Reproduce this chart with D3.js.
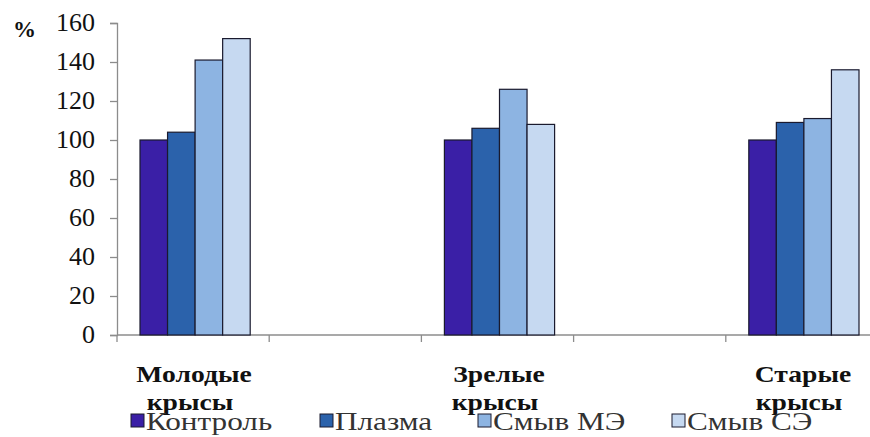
<!DOCTYPE html>
<html><head><meta charset="utf-8">
<script src="https://cdn.jsdelivr.net/npm/d3@7"></script>
<style>body{margin:0;background:#fff}
#wrap{position:relative;width:870px;height:437px;overflow:hidden}
svg{display:block;position:absolute;left:0;top:0}
.lbl{position:absolute;white-space:nowrap;line-height:1;font-family:"Liberation Serif","Times New Roman",Times,serif;}
</style>
</head><body>
<div id="wrap"></div>
<script>
const categories = [["Молодые","крысы"],["Зрелые","крысы"],["Старые","крысы"]];
const series = ["Контроль","Плазма","Смыв МЭ","Смыв СЭ"];
const values = {
  "Контроль": [100,100,100],
  "Плазма":   [104,106,109],
  "Смыв МЭ":  [141,126,111],
  "Смыв СЭ":  [152,108,136]
};
const yTicks = [0,20,40,60,80,100,120,140,160];
const colors = ["#3a1fa6","#2b62ab","#8db4e2","#c6d9f1"];

const W=870,H=437;
const wrap=d3.select("#wrap");
const svg=wrap.append("svg").attr("width",W).attr("height",H);
const x0=117, x1=878, yTop=23, yBot=335;
const slots=d3.range(categories.length*2-1);
const xs=d3.scaleBand().domain(slots).range([x0,x1]).padding(0);
const y=d3.scaleLinear().domain([0,160]).range([yBot,yTop]);
const inner=d3.scaleBand().domain(series).range([23,xs.bandwidth()-19]).padding(0);

function label(text,x,base,o){
  const fs=o.size, k=o.sx||1;
  const d=wrap.append("div").attr("class","lbl").text(text)
   .style("font-size",fs+"px").style("font-weight",o.weight||"normal")
   .style("color",o.color||"#111").style("top",(base-0.8375*fs)+"px").style("left",x+"px");
  let tr, org;
  if(o.anchor==="middle"){tr=`translateX(-50%) scaleX(${k})`;org="50% 50%";}
  else if(o.anchor==="end"){tr=`translateX(-100%) scaleX(${k})`;org="100% 50%";}
  else {tr=`scaleX(${k})`;org="0 50%";}
  d.style("transform",tr).style("transform-origin",org);
  return d;
}

const axisCol="#8c8c8c";
const ya=svg.append("g").attr("transform",`translate(${x0},0)`)
 .call(d3.axisLeft(y).tickValues(yTicks).tickSize(7).tickFormat(""));
ya.select(".domain").attr("stroke",axisCol).attr("stroke-width",1.3);
ya.selectAll(".tick line").attr("stroke",axisCol).attr("stroke-width",1.3);
yTicks.forEach(v=>label(String(v),95,y(v)+9,{size:26,anchor:"end"}));

svg.append("line").attr("x1",x0).attr("x2",W).attr("y1",yBot).attr("y2",yBot).attr("stroke",axisCol).attr("stroke-width",1.5);
const bounds=slots.map(s=>xs(s)).concat([x1]);
svg.selectAll("line.xt").data(bounds).join("line").attr("class","xt")
 .attr("x1",d=>d).attr("x2",d=>d).attr("y1",yBot).attr("y2",yBot+7).attr("stroke",axisCol).attr("stroke-width",1.3);

const g=svg.append("g");
categories.forEach((c,i)=>{
  const bx=xs(i*2);
  series.forEach((s,j)=>{
    g.append("rect").attr("x",bx+inner(s)).attr("width",inner.bandwidth())
     .attr("y",y(values[s][i])).attr("height",yBot-y(values[s][i]))
     .attr("fill",colors[j]).attr("stroke","#1a1a2e").attr("stroke-width",1.2);
  });
  const cx=bx+xs.bandwidth()/2;
  label(c[0],cx+1,382,{size:23,weight:"bold",anchor:"middle",sx:1.2});
  label(c[1],cx-3,410,{size:23,weight:"bold",anchor:"middle",sx:1.2});
});

label("%",13,37,{size:23,weight:"bold"});

const legX=[131,320,478,672];
series.forEach((s,j)=>{
  svg.append("rect").attr("x",legX[j]).attr("y",414).attr("width",13).attr("height",13)
   .attr("fill",colors[j]).attr("stroke","#1a1a2e").attr("stroke-width",1);
  label(s,legX[j]+15,431,{size:26,anchor:"start",sx:1.2,color:"#333"});
});
</script>
</body></html>
